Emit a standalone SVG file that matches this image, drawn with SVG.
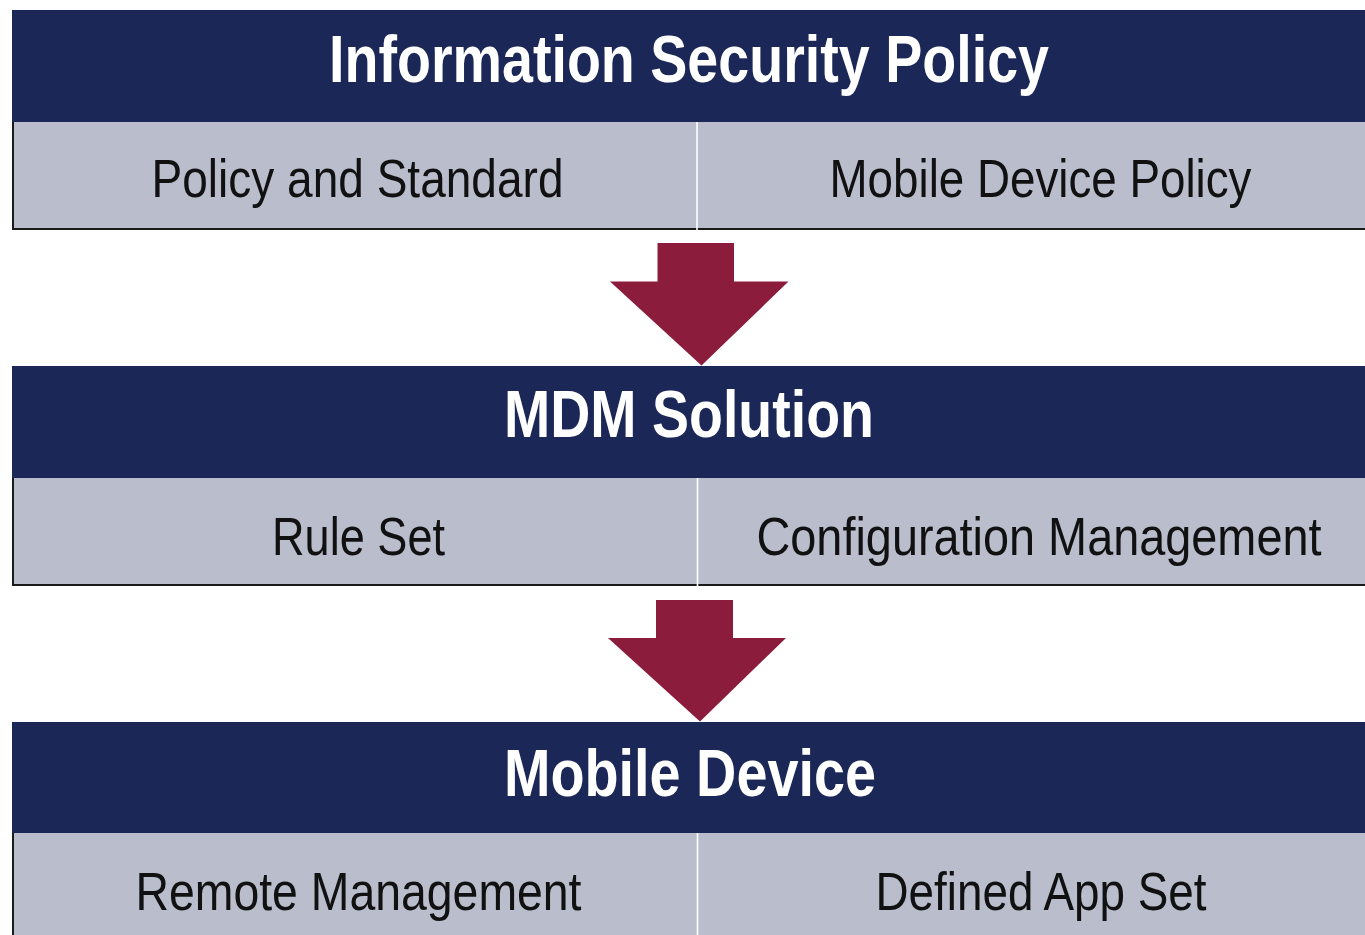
<svg xmlns="http://www.w3.org/2000/svg" width="1365" height="935" viewBox="0 0 1365 935">
  <style>
    .band { fill: #1b2756; }
    .cell { fill: #b9bdcc; }
    .rule { stroke: #1a1a1a; stroke-width: 2; fill: none; }
    .split { stroke: #ffffff; stroke-width: 1.6; }
    .title { font-family: "Liberation Sans", Arial, sans-serif; font-weight: bold; font-size: 67px; fill: #ffffff; text-anchor: middle; }
    .label { font-family: "Liberation Sans", Arial, sans-serif; font-size: 53px; fill: #111111; text-anchor: middle; }
    .flow { fill: #8b1c3c; }
  </style>

  <rect width="1365" height="935" fill="#ffffff"/>

  <!-- Tier 1 -->
  <g id="information-security-policy">
    <rect class="band" x="12" y="10" width="1353" height="112"/>
    <rect class="cell" x="12" y="122" width="1353" height="107"/>
    <polyline class="rule" points="13,122 13,229 1365,229"/>
    <line class="split" x1="697" y1="122" x2="697" y2="230"/>
    <text class="title" x="689" y="82" textLength="720" lengthAdjust="spacingAndGlyphs">Information Security Policy</text>
    <text class="label" x="357.5" y="197" textLength="412" lengthAdjust="spacingAndGlyphs">Policy and Standard</text>
    <text class="label" x="1040.5" y="197" textLength="422" lengthAdjust="spacingAndGlyphs">Mobile Device Policy</text>
  </g>

  <!-- Tier 2 -->
  <g id="mdm-solution">
    <rect class="band" x="12" y="366" width="1353" height="112"/>
    <rect class="cell" x="12" y="478" width="1353" height="107"/>
    <polyline class="rule" points="13,478 13,585 1365,585"/>
    <line class="split" x1="697.5" y1="478" x2="697.5" y2="586"/>
    <text class="title" x="689" y="437" textLength="370" lengthAdjust="spacingAndGlyphs">MDM Solution</text>
    <text class="label" x="358.5" y="555" textLength="173" lengthAdjust="spacingAndGlyphs">Rule Set</text>
    <text class="label" x="1039" y="555" textLength="565" lengthAdjust="spacingAndGlyphs">Configuration Management</text>
  </g>

  <!-- Tier 3 -->
  <g id="mobile-device">
    <rect class="band" x="12" y="722" width="1353" height="111"/>
    <rect class="cell" x="12" y="833" width="1353" height="102"/>
    <line class="rule" x1="13" y1="833" x2="13" y2="935"/>
    <line class="split" x1="697.5" y1="833" x2="697.5" y2="935"/>
    <text class="title" x="690" y="796" textLength="372" lengthAdjust="spacingAndGlyphs">Mobile Device</text>
    <text class="label" x="358.5" y="910" textLength="446" lengthAdjust="spacingAndGlyphs">Remote Management</text>
    <text class="label" x="1041" y="910" textLength="331" lengthAdjust="spacingAndGlyphs">Defined App Set</text>
  </g>

  <!-- Connectors -->
  <g id="connectors">
    <polygon class="flow" points="657.5,243 734,243 734,281.5 788.5,281.5 701.5,365.5 610,281.5 657.5,281.5"/>
    <polygon class="flow" points="656,600 733,600 733,638 786,638 700,721.5 608,638 656,638"/>
  </g>
</svg>
